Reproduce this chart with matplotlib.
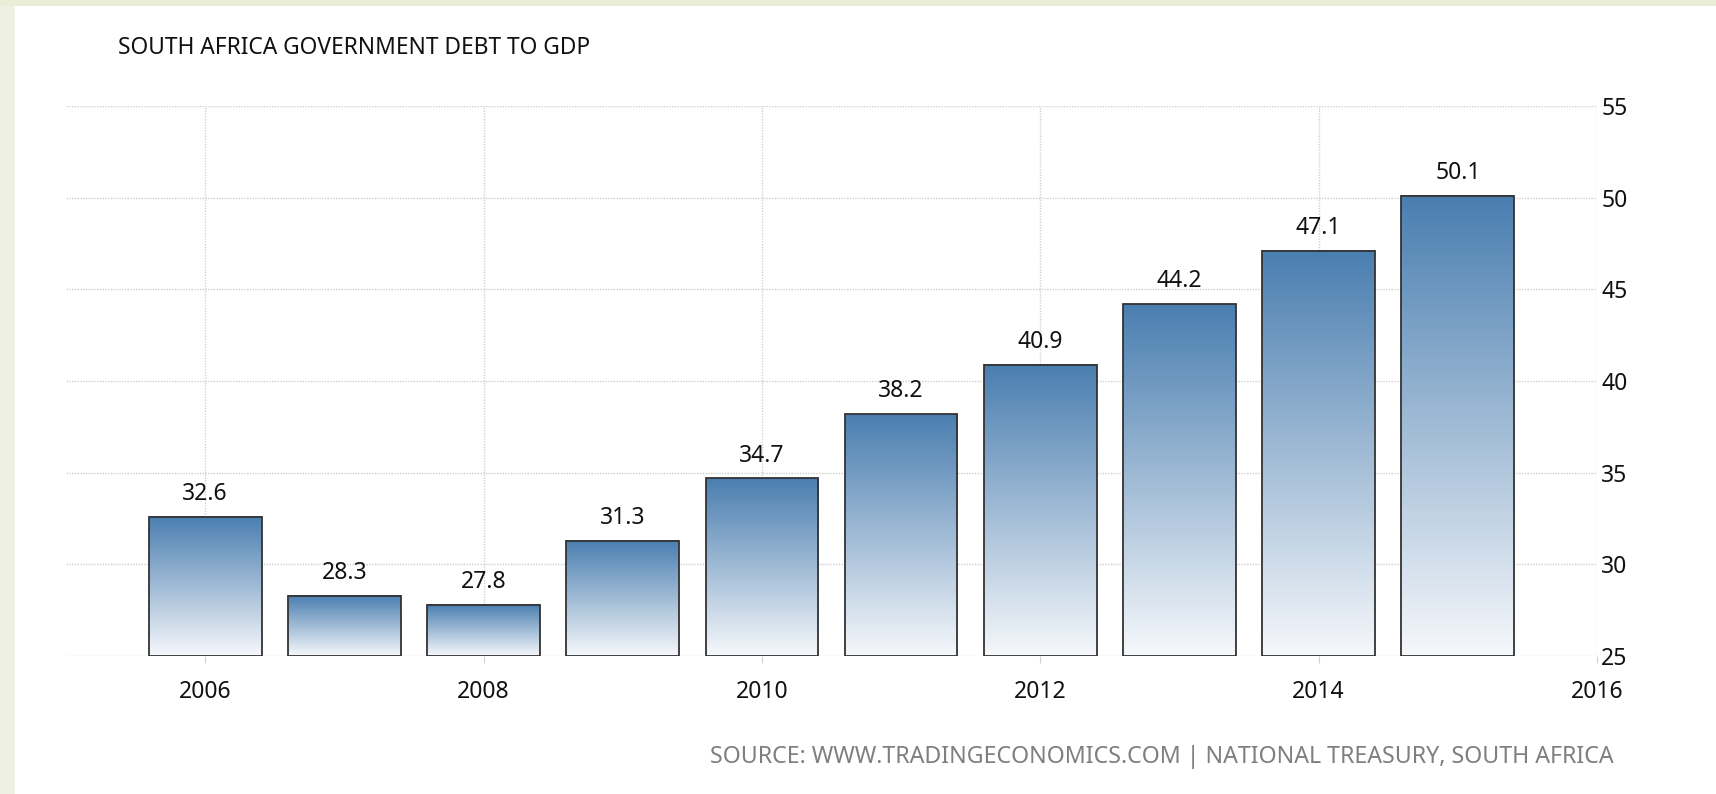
import matplotlib.pyplot as plt
import numpy as np
from matplotlib.colors import LinearSegmentedColormap
from matplotlib.patches import Rectangle

years = [2006, 2007, 2008, 2009, 2010, 2011, 2012, 2013, 2014, 2015]
debt = [32.6, 28.3, 27.8, 31.3, 34.7, 38.2, 40.9, 44.2, 47.1, 50.1]
year_ticks = [2006, 2008, 2010, 2012, 2014, 2016]
y_ticks = [25, 30, 35, 40, 45, 50, 55]

plt.rcParams['font.family'] = ['Noto Sans', 'DejaVu Sans']

W, H = 1716, 794
fig = plt.figure(figsize=(W / 100, H / 100), dpi=100)
fig.patch.set_facecolor('white')

# light green page border (left and top)
fig.add_artist(Rectangle((0, 0), 15 / W, 1, transform=fig.transFigure,
                         facecolor='#eef1e2', edgecolor='none'))
fig.add_artist(Rectangle((0, 1 - 6 / H), 1, 6 / H, transform=fig.transFigure,
                         facecolor='#e9eed9', edgecolor='none'))

ax = fig.add_axes([66 / W, 138 / H, (1597 - 66) / W, (656 - 106) / H])

ymin, ymax = 25, 55
cmap = LinearSegmentedColormap.from_list('tegrad', ['#f6f8fb', '#4a7eb0'])
grad = np.linspace(0, 1, 256).reshape(-1, 1)
width = 0.81

bars = ax.bar(years, np.array(debt) - ymin, bottom=ymin, width=width,
              facecolor='none', edgecolor='#333333', linewidth=1.3, zorder=3)
for b, v in zip(bars, debt):
    x0 = b.get_x()
    ax.imshow(grad, extent=[x0, x0 + b.get_width(), ymin, v], origin='lower',
              aspect='auto', cmap=cmap, zorder=2, interpolation='bilinear')
    ax.annotate(f'{v:.1f}', (b.get_x() + b.get_width() / 2, v),
                xytext=(0, 12), textcoords='offset points',
                ha='center', va='baseline', fontsize=16.5, color='#111111')

ax.set_xlim(2005, 2016)
ax.set_ylim(ymin, ymax)
ax.set_xticks(year_ticks)
ax.set_yticks(y_ticks)
ax.grid(color='#d0d0d0', linestyle=(0, (1, 1)), linewidth=1, zorder=0)
ax.set_axisbelow(True)
for s in ax.spines.values():
    s.set_visible(False)
ax.yaxis.tick_right()
ax.tick_params(axis='y', length=0, pad=3, labelsize=16.5, labelcolor='#111111')
ax.tick_params(axis='x', length=5, color='#d0d0d0', pad=12, labelsize=16.5,
               labelcolor='#111111')
for lbl in ax.get_yticklabels():
    lbl.set_horizontalalignment('left')
    lbl.set_verticalalignment('center_baseline')

fig.text(118 / W, 1 - 48 / H, 'SOUTH AFRICA GOVERNMENT DEBT TO GDP',
         ha='left', va='center', fontsize=16.4, color='#111111')
fig.text(1614 / W, 1 - 757 / H,
         'SOURCE: WWW.TRADINGECONOMICS.COM | NATIONAL TREASURY, SOUTH AFRICA',
         ha='right', va='center', fontsize=16.7, color='#7f7f7f')

fig.savefig('out.png', dpi=100)
